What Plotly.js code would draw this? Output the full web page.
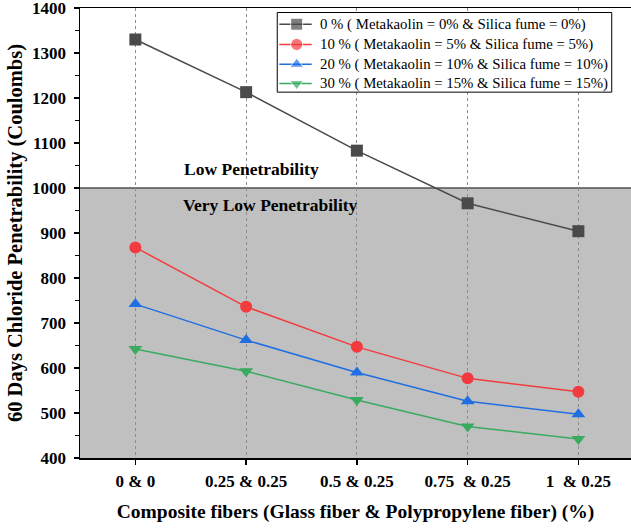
<!DOCTYPE html>
<html>
<head>
<meta charset="utf-8">
<script src="https://cdn.plot.ly/plotly-3.0.1.min.js"></script>
<style>
  html, body { margin: 0; padding: 0; background: #ffffff; }
  #chart { width: 631px; height: 529px; }
</style>
</head>
<body>
<div id="chart"></div>
<script>
// Fiber combinations (glass fiber % & polypropylene fiber %)
const fiberLabels = ['0 & 0', '0.25 & 0.25', '0.5 & 0.25', '0.75\u00a0 & 0.25', '1\u00a0 & 0.25'];

// 60-day chloride penetrability (Coulombs) per pozzolan replacement level
const mix0 = [1330, 1213, 1083, 966, 904];
const mix10 = [868, 736, 647, 577, 547];
const mix20 = [742, 662, 590, 526, 497];
const mix30 = [642, 593, 529, 470, 442];

const seriesNames = [
  '0 % ( Metakaolin = 0% & Silica fume = 0%)',
  '10 % ( Metakaolin = 5% & Silica fume = 5%)',
  '20 % ( Metakaolin = 10% & Silica fume = 10%)',
  '30 % ( Metakaolin = 15% & Silica fume = 15%)'
];
const seriesColors = ['#4a4a4a', '#f23b3f', '#1f6fe3', '#3aaa60'];
const seriesSymbols = ['square', 'circle', 'triangle-up', 'triangle-down'];
const seriesValues = [mix0, mix10, mix20, mix30];

// Penetrability class boundary (ASTM C1202)
const classBoundary = 1000;
const yMin = 400, yMax = 1400;

const serif = 'Liberation Serif';
const markerSize = 12;

const traces = seriesValues.map((vals, i) => ({
  x: fiberLabels, y: vals, name: seriesNames[i], type: 'scatter', mode: 'lines+markers',
  showlegend: false,
  line: { color: seriesColors[i], width: 1.5 },
  marker: { color: seriesColors[i], symbol: seriesSymbols[i], size: markerSize }
}));

// Legend box drawn on an overlay axis spanning the plot area (0..1 both ways)
const box = { x0: 0.358, x1: 0.965, y0: 0.813, y1: 0.990 };
const rowY = [0.964, 0.919, 0.875, 0.832];
const sampleX = [0.3617, 0.3933, 0.4205];
const labelX = 0.4314;

traces.push({
  x: [box.x0, box.x1, box.x1, box.x0, box.x0],
  y: [box.y0, box.y0, box.y1, box.y1, box.y0],
  xaxis: 'x2', yaxis: 'y2', type: 'scatter', mode: 'lines',
  fill: 'toself', fillcolor: '#ffffff',
  line: { color: '#000000', width: 1 }, showlegend: false, hoverinfo: 'skip'
});
seriesValues.forEach((_, i) => {
  traces.push({
    x: sampleX, y: [rowY[i], rowY[i], rowY[i]],
    xaxis: 'x2', yaxis: 'y2', type: 'scatter', mode: 'lines+markers',
    line: { color: seriesColors[i], width: 1.5 },
    marker: { color: seriesColors[i], symbol: seriesSymbols[i], size: [0, markerSize, 0] },
    showlegend: false, hoverinfo: 'skip'
  });
});

const legendLabels = seriesNames.map((name, i) => ({
  text: name, xref: 'paper', yref: 'paper', x: labelX, y: rowY[i],
  xanchor: 'left', yanchor: 'middle', showarrow: false,
  font: { family: serif, size: 14.8, color: '#000000' }
}));

const layout = {
  width: 631, height: 529,
  margin: { l: 80, r: 0, t: 8, b: 71 },
  paper_bgcolor: '#ffffff', plot_bgcolor: 'rgba(0,0,0,0)',
  font: { family: serif, color: '#000000' },
  showlegend: false,
  xaxis: {
    type: 'category', range: [-0.5, 4.475],
    showline: true, linecolor: '#000000', linewidth: 1.5, mirror: true,
    ticks: 'outside', ticklen: 5, tickwidth: 1.5, tickcolor: '#000000',
    ticklabelstandoff: 2,
    showgrid: true, gridcolor: '#8c8c8c', griddash: 'dot', gridwidth: 1,
    tickfont: { family: serif, size: 17, color: '#000000', weight: 'bold' },
    title: { text: '<b>Composite fibers (Glass fiber &amp; Polypropylene fiber) (%)</b>',
             font: { family: serif, size: 19.5, color: '#000000' }, standoff: 14 },
    zeroline: false, fixedrange: true
  },
  yaxis: {
    range: [yMin, yMax], tickmode: 'linear', dtick: 100, tick0: 400,
    ticklabeloverflow: 'allow',
    showline: true, linecolor: '#000000', linewidth: 1.5,
    ticks: 'outside', ticklen: 5, tickwidth: 1.5, tickcolor: '#000000',
    ticklabelstandoff: 4,
    minor: { dtick: 50, ticks: 'outside', ticklen: 3.5, tickwidth: 1.2, tickcolor: '#000000', showgrid: false },
    showgrid: false, zeroline: false,
    tickfont: { family: serif, size: 17, color: '#000000', weight: 'bold' },
    title: { text: '<b>60 Days Chloride Penetrability (Coulombs)</b>',
             font: { family: serif, size: 20.5, color: '#000000' }, standoff: 4 },
    fixedrange: true
  },
  xaxis2: { overlaying: 'x', range: [0, 1], visible: false, fixedrange: true },
  yaxis2: { overlaying: 'y', range: [0, 1], visible: false, fixedrange: true },
  shapes: [
    {
      type: 'rect', layer: 'below', xref: 'paper', yref: 'y',
      x0: 0, x1: 1, y0: yMin, y1: classBoundary,
      fillcolor: '#c0c0c0', line: { width: 0 }
    },
    {
      type: 'line', layer: 'below', xref: 'paper', yref: 'y',
      x0: 0, x1: 1, y0: classBoundary, y1: classBoundary,
      line: { color: '#505050', width: 1.5 }
    }
  ],
  annotations: [
    {
      text: '<b>Low Penetrability</b>', xref: 'x', yref: 'y', x: 1.046, y: 1042,
      showarrow: false, font: { family: serif, size: 17.5, color: '#000000' }
    },
    {
      text: '<b>Very Low Penetrability</b>', xref: 'x', yref: 'y', x: 1.223, y: 962,
      showarrow: false, font: { family: serif, size: 17.5, color: '#000000' }
    }
  ].concat(legendLabels)
};

Plotly.newPlot('chart', traces, layout, { displayModeBar: false, staticPlot: true });
</script>
</body>
</html>
